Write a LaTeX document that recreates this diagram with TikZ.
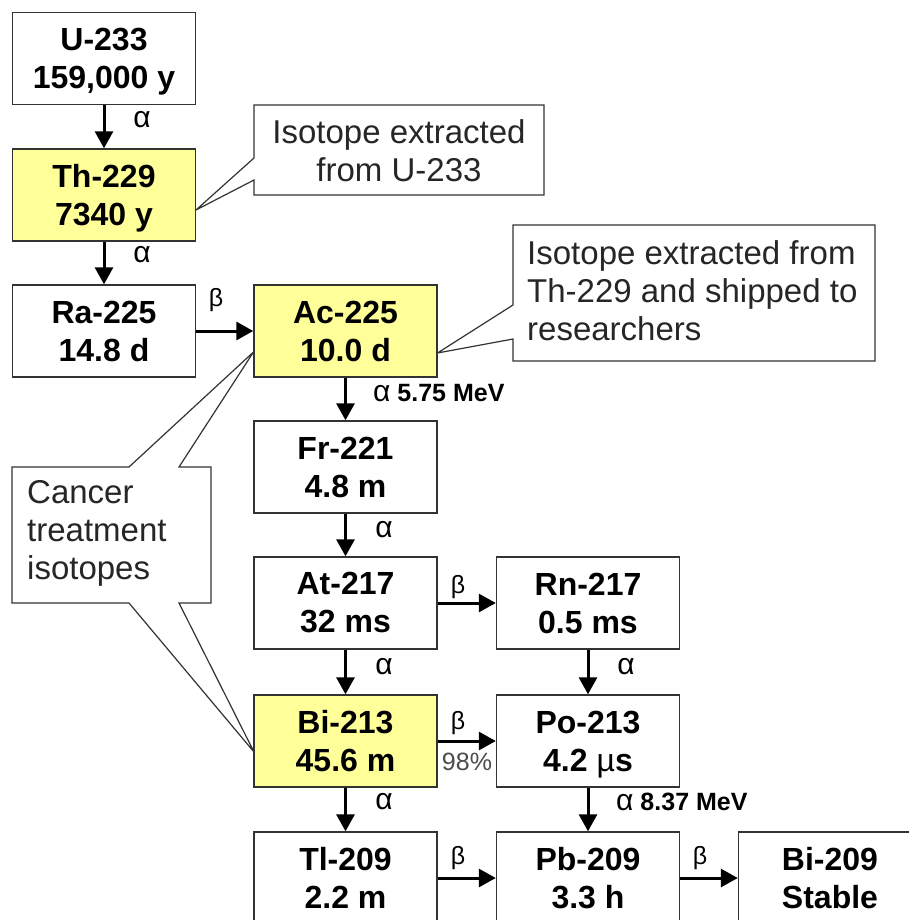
\documentclass[tikz,border=0pt]{standalone}
\usepackage{fontspec}
\setmainfont{Liberation Sans}
\usetikzlibrary{arrows.meta,calc}
\definecolor{boxyellow}{HTML}{FFFF99}
\definecolor{edgegray}{HTML}{333333}
\definecolor{notegray}{HTML}{262626}
\newcommand{\nodepth}[1]{\raisebox{0pt}[\height][0pt]{#1}}
\begin{document}
\begin{tikzpicture}[x=1pt,y=-1pt,
  iso/.style={draw=edgegray, line width=1.4pt, fill=white, minimum width=183pt, minimum height=92pt, inner sep=0pt, align=center, font=\fontsize{32}{38}\selectfont\bfseries},
  hl/.style={iso, fill=boxyellow},
  decay/.style={line width=3pt, -{Triangle[width=18pt,length=17pt]}},
  lbl/.style={font=\fontsize{25}{30}\selectfont, inner sep=0pt},
  lbla/.style={font=\fontsize{30}{30}\selectfont, inner sep=0pt},
  note/.style={font=\fontsize{33}{38}\selectfont, text=notegray, inner sep=0pt},
  callout/.style={draw=edgegray, line width=1.2pt, fill=white, line join=miter}
]
\useasboundingbox (0,0) rectangle (909,920);
\clip (0,0) rectangle (909,920);
\fill[white] (0,0) rectangle (909,920);

% coordinates for boxes (centres)
\coordinate (pu) at (104,58.5);
\coordinate (pth) at (104,195);
\coordinate (pra) at (104,331);
\coordinate (pac) at (345.5,331);

% callout shapes (drawn first)
\draw[callout] (254,105) -- (544,105) -- (544,195) -- (254,195) -- (254,180)
   -- ($(pth)+(92,15)$) -- (254,158) -- cycle;
\draw[callout] (513,225) -- (875,225) -- (875,361) -- (513,361) -- (513,339)
   -- ($(pac)+(92,22)$) -- (513,305) -- cycle;
\draw[callout] (12,467) -- (129,467) -- ($(pac)+(-92,21)$) -- (179,467) -- (211,467)
   -- (211,603) -- (179,603) -- (254,752) -- (129,603) -- (12,603) -- cycle;

\node[note, align=center] (c1) at (399,151) {Isotope extracted\\from U-233};
\node[note, align=left, anchor=west] (c2) at (527,291) {Isotope extracted from\\Th-229 and shipped to\\researchers};
\node[note, align=left, anchor=west] (c3) at (27,533) {Cancer\\treatment\\isotopes};

% isotope boxes
\node[iso] (u233) at (pu) {U-233\\\nodepth{159,000 y}};
\node[hl] (th229) at (pth) {Th-229\\\nodepth{7340 y}};
\node[iso] (ra225) at (pra) {Ra-225\\14.8 d};
\node[hl] (ac225) at (pac) {Ac-225\\10.0 d};
\node[iso] (fr221) at (345.5,467) {Fr-221\\4.8 m};
\node[iso] (at217) at (345.5,603) {At-217\\32 ms};
\node[iso] (rn217) at (588,603) {Rn-217\\0.5 ms};
\node[hl] (bi213) at (345.5,741) {Bi-213\\45.6 m};
\node[iso] (po213) at (588,741) {Po-213\\\nodepth{4.2 {\mdseries µ}s}};
\node[iso] (tl209) at (345.5,878) {Tl-209\\2.2 m};
\node[iso] (pb209) at (588,878) {Pb-209\\3.3 h};
\node[iso] (bi209) at (830,878) {Bi-209\\Stable};

% decays
\draw[decay] (u233) -- (th229);
\draw[decay] (th229) -- (ra225);
\draw[decay] (ra225) -- (ac225);
\draw[decay] (ac225) -- (fr221);
\draw[decay] (fr221) -- (at217);
\draw[decay] (at217) -- (rn217);
\draw[decay] (at217) -- (bi213);
\draw[decay] (rn217) -- (po213);
\draw[decay] (bi213) -- (po213);
\draw[decay] (bi213) -- (tl209);
\draw[decay] (po213) -- (pb209);
\draw[decay] (tl209) -- (pb209);
\draw[decay] (pb209) -- (bi209);

% labels
\node[lbla] (l1) at (142,120) {α};
\node[lbla] (l2) at (142,255) {α};
\node[lbl] (l3) at (216,300) {β};
\node[lbl, anchor=west] (l4) at (373,393) {{\fontsize{30}{30}\selectfont α} \bfseries 5.75 MeV};
\node[lbla] (l5) at (384,530) {α};
\node[lbl] (l6) at (458,587) {β};
\node[lbla] (l7) at (384,667) {α};
\node[lbla] (l8) at (626,667) {α};
\node[lbl] (l9) at (458,723) {β};
\node[lbl, text=black!70] (l10) at (467,762) {98\%};
\node[lbla] (l11) at (384,802) {α};
\node[lbl, anchor=west] (l12) at (616,802) {{\fontsize{30}{30}\selectfont α} \bfseries 8.37 MeV};
\node[lbl] (l13) at (458,858) {β};
\node[lbl] (l14) at (700,858) {β};
\end{tikzpicture}
\end{document}
